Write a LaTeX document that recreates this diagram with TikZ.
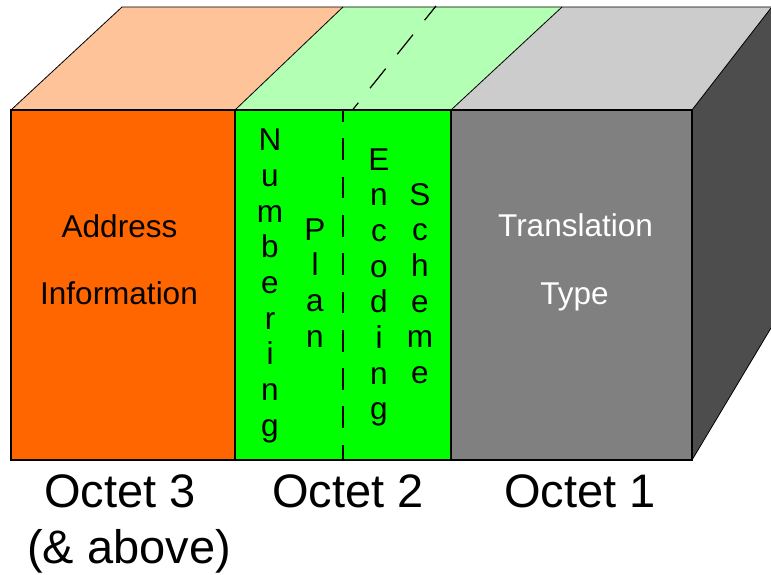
\documentclass[tikz,border=0pt]{standalone}
\usepackage{fontspec}
\setmainfont{Liberation Sans}
\definecolor{orangeFront}{HTML}{FF6600}
\definecolor{orangeTop}{HTML}{FFC399}
\definecolor{greenFront}{HTML}{00FF00}
\definecolor{greenTop}{HTML}{B3FFB3}
\definecolor{grayFront}{HTML}{808080}
\definecolor{grayTop}{HTML}{CCCCCC}
\definecolor{graySide}{HTML}{4D4D4D}
\tikzset{
  topface/.style={draw=black, line width=0.8pt, line join=round},
  frontface/.style={draw=black, line width=2pt},
  fieldtext/.style={inner sep=0pt, anchor=base, font=\fontsize{31.5}{36}\selectfont},
  letter/.style={inner sep=0pt, anchor=base, font=\fontsize{31.5}{36}\selectfont},
  octet/.style={inner sep=0pt, anchor=base, font=\fontsize{47}{52}\selectfont},
  splitline/.style={line width=1.6pt, dash pattern=on 21.7pt off 16.6pt},
}
\begin{document}
\begin{tikzpicture}[x=1pt,y=-1pt]
\useasboundingbox (0,0) rectangle (771,575);

% top faces
\fill[orangeTop] (11,110) -- (122,7) -- (343,7) -- (235,110) -- cycle;
\fill[greenTop]  (235,110) -- (343,7) -- (562,7) -- (451,110) -- cycle;
\fill[grayTop]   (451,110) -- (562,7) -- (771,7) -- (771,8) -- (692,110) -- cycle;
\draw[topface] (11,110) -- (122,7) -- (771,7);
\draw[topface] (235,110) -- (343,7);
\draw[topface] (451,110) -- (562,7);

% right side face
\fill[graySide] (692,110) -- (771,8) -- (771,328) -- (692,460) -- cycle;
\draw[topface] (692,110) -- (771,8);
\draw[topface] (692,460) -- (771,328);

% front faces
\fill[orangeFront] (11,110) rectangle (235,460);
\fill[greenFront]  (235,110) rectangle (451,460);
\fill[grayFront]   (451,110) rectangle (692,460);
\draw[frontface] (11,110) rectangle (692,460);
\draw[frontface] (235,110) -- (235,460);
\draw[frontface] (451,110) -- (451,460);

% dashed split of octet 2
\draw[splitline, dash phase=10pt] (343,110) -- (343,460);
\draw[line width=1.2pt, dash pattern=on 25pt off 18.6pt, dash phase=15.6pt] (352.5,110) -- (436,6);

% octet 3 field
\node[fieldtext] (addr) at (119.5,237) {Address};
\node[fieldtext] (info) at (119,304) {Information};

% octet 1 field
\node[fieldtext, text=white] (trans) at (575.5,236) {Translation};
\node[fieldtext, text=white] (type) at (574.5,304) {Type};

% octet 2 fields, written vertically
\foreach \ch [count=\i from 0] in {N,u,m,b,e,r,i,n,g}
  \node[letter] (numb\i) at (270,150.7+\i*35.7) {\ch};
\foreach \ch [count=\i from 0] in {P,l,a,n}
  \node[letter] (plan\i) at (315,240+\i*35.7) {\ch};
\foreach \ch [count=\i from 0] in {E,n,c,o,d,i,n,g}
  \node[letter] (enc\i) at (379,170+\i*35.7) {\ch};
\foreach \ch [count=\i from 0] in {S,c,h,e,m,e}
  \node[letter] (sch\i) at (420,205+\i*35.7) {\ch};

% octet labels
\node[octet] (oct3) at (120,507) {Octet 3};
\node[octet] (oct2) at (348,507) {Octet 2};
\node[octet] (oct1) at (580,507) {Octet 1};
\node[octet] (above) at (129,563) {(\& above)};
\end{tikzpicture}
\end{document}
